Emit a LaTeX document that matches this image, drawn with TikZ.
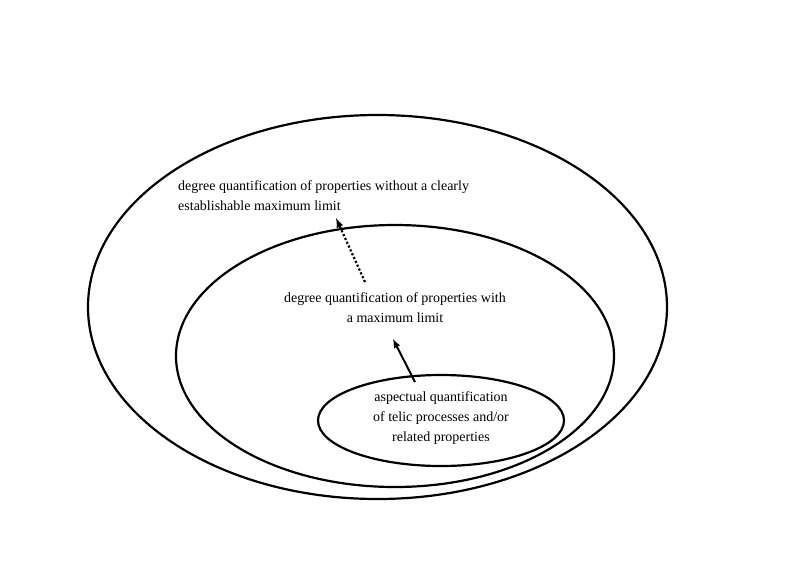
\documentclass[tikz,border=0pt]{standalone}
\usepackage{fontspec}
\setmainfont{Liberation Serif}
\begin{document}
\begin{tikzpicture}[x=1pt,y=-1pt,
  ell/.style={draw,line width=2.2pt},
  lbl/.style={font=\fontsize{14}{20}\selectfont,align=center,inner sep=0pt}]
\useasboundingbox (0,0) rectangle (800,563);
\draw[ell] (377.5,307) ellipse [x radius=289.5,y radius=192];
\draw[ell] (395,356) ellipse [x radius=219,y radius=131];
\draw[ell] (441,420.5) ellipse [x radius=123,y radius=45.5];
\node[lbl,align=left,anchor=west] (t1) at (178,196) {degree quantification of properties without a clearly\\establishable maximum limit};
\node[lbl] (t2) at (395,308) {degree quantification of properties with\\a maximum limit};
\node[lbl] (t3) at (441,418) {aspectual quantification\\of telic processes and/or\\related properties};
\coordinate (a1) at (365,282); \coordinate (b1) at (336,218);
\coordinate (a2) at (415,382); \coordinate (b2) at (393,339);
\draw[line width=2.2pt,dotted,-latex] (a1) -- (b1);
\draw[line width=2pt,-latex] (a2) -- (b2);
\end{tikzpicture}
\end{document}
